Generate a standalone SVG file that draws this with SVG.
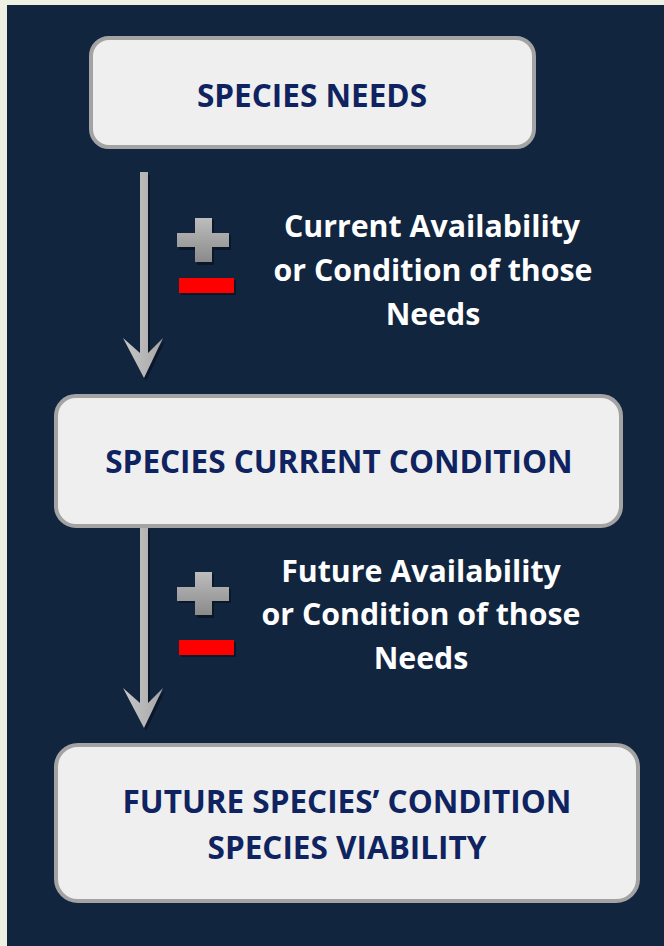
<svg xmlns="http://www.w3.org/2000/svg" width="664" height="946" viewBox="0 0 664 946">
<defs>
<linearGradient id="plusGrad" x1="0" y1="0" x2="0" y2="1">
<stop offset="0" stop-color="#bdbdbd"/>
<stop offset="1" stop-color="#8a8a8a"/>
</linearGradient>
<linearGradient id="shaftGrad" x1="0" y1="0" x2="1" y2="0">
<stop offset="0" stop-color="#c8c8c8"/>
<stop offset="1" stop-color="#a6a6a6"/>
</linearGradient>
</defs>
<style>
.box{fill:#efefef;stroke:#a3a3a3;stroke-width:4}
.btxt{font-family:"Open Sans","Liberation Sans",sans-serif;font-weight:700;fill:#0e2360;text-anchor:middle;font-size:31.5px}
.wtxt{font-family:"Open Sans","Liberation Sans",sans-serif;font-weight:700;fill:#ffffff;text-anchor:middle;font-size:30.3px}
.shadow{fill:#0a1629}
.arrow{fill:url(#shaftGrad)}
.plus{fill:url(#plusGrad)}
.minus{fill:#ff0000}
</style>
<rect x="0" y="0" width="664" height="946" fill="#eef0e2"/>
<rect x="7" y="5" width="657" height="941" fill="#12253f"/>

<g id="connectors">
<g id="arrow1">
<path class="shadow" d="M142 175 H150 V356 L165 341 L146 381 L125 341 L142 356 Z"/>
<path class="arrow" d="M140 172 H148 V353 L163 338 L144 378 L123 338 L140 353 Z"/>
</g>
<g id="arrow2">
<path class="shadow" d="M142 530 H150 V706 L165 691 L146 731 L125 691 L142 706 Z"/>
<path class="arrow" d="M140 527 H148 V703 L163 688 L144 728 L123 688 L140 703 Z"/>
</g>
</g>

<g id="label1">
<path class="shadow" d="M197 220 H214 V235 H231 V250 H214 V265 H197 V250 H179 V235 H197 Z"/>
<path class="plus" d="M195 218 H212 V233 H229 V247 H212 V262 H195 V247 H177 V233 H195 Z"/>
<rect class="shadow" x="181" y="280" width="55" height="15"/>
<rect class="minus" x="179" y="278" width="55" height="15"/>
<text class="wtxt" x="432" y="237">Current Availability</text>
<text class="wtxt" x="433" y="281">or Condition of those</text>
<text class="wtxt" x="433" y="325">Needs</text>
</g>

<g id="label2">
<path class="shadow" d="M197 574 H214 V589 H231 V603 H214 V618 H197 V603 H179 V589 H197 Z"/>
<path class="plus" d="M195 572 H212 V587 H229 V601 H212 V615 H195 V601 H177 V587 H195 Z"/>
<rect class="shadow" x="181" y="642" width="55" height="15"/>
<rect class="minus" x="179" y="640" width="55" height="15"/>
<text class="wtxt" x="421" y="582">Future Availability</text>
<text class="wtxt" x="421" y="625">or Condition of those</text>
<text class="wtxt" x="421" y="669">Needs</text>
</g>

<g id="node-species-needs">
<rect class="box" x="91" y="38" width="443" height="109" rx="18"/>
<text class="btxt" x="312" y="107">SPECIES NEEDS</text>
</g>

<g id="node-current-condition">
<rect class="box" x="56" y="396" width="565" height="130" rx="20"/>
<text class="btxt" x="339" y="473">SPECIES CURRENT CONDITION</text>
</g>

<g id="node-future-condition">
<rect class="box" x="56" y="745" width="582" height="156" rx="22"/>
<text class="btxt" x="347" y="813">FUTURE SPECIES’ CONDITION</text>
<text class="btxt" x="347" y="859">SPECIES VIABILITY</text>
</g>
</svg>
